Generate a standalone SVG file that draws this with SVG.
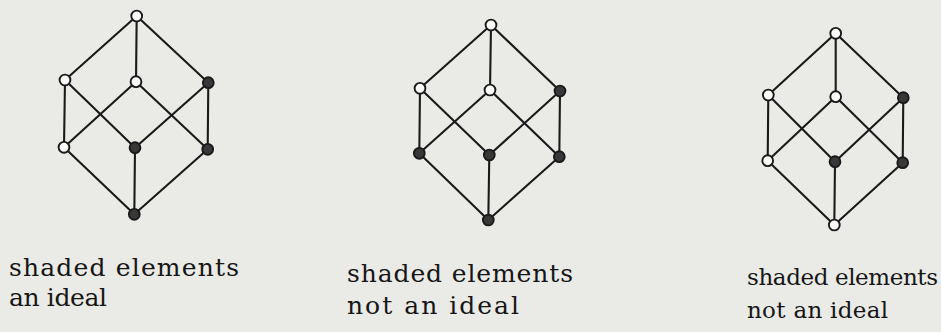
<svg xmlns="http://www.w3.org/2000/svg" width="941" height="332" viewBox="0 0 941 332">
<style>
.e{stroke:#1a1a1a;stroke-width:2.1;fill:none;stroke-linecap:round}
.o{fill:#fafaf8;stroke:#1a1a1a;stroke-width:1.9}
.f{fill:#383838;stroke:#1a1a1a;stroke-width:1.9}
.t{font-family:"DejaVu Serif","Liberation Serif",serif;font-size:25px;fill:#161616}
.s{font-size:23px}
</style>
<rect width="941" height="332" fill="#eaeae6"/>
<g id="connectors">
<path class="e" d="M136.7,16 L65,80 M136.7,16 L136,81.7 M136.7,16 L208.3,82.7 M65,80 L64,147.3 M65,80 L135,147.7 M136,81.7 L64,147.3 M136,81.7 L207.7,149.3 M208.3,82.7 L135,147.7 M208.3,82.7 L207.7,149.3 M64,147.3 L134.3,214.3 M135,147.7 L134.3,214.3 M207.7,149.3 L134.3,214.3"/>
<path class="e" d="M491,25 L420,88.3 M491,25 L490,90 M491,25 L560,91 M420,88.3 L419.3,153.3 M420,88.3 L489.3,155 M490,90 L419.3,153.3 M490,90 L559.3,156.7 M560,91 L489.3,155 M560,91 L559.3,156.7 M419.3,153.3 L488.3,220 M489.3,155 L488.3,220 M559.3,156.7 L488.3,220"/>
<path class="e" d="M835.7,33.3 L768.3,95 M835.7,33.3 L835.7,96.7 M835.7,33.3 L903.3,97.7 M768.3,95 L767.7,160.7 M768.3,95 L835,161.7 M835.7,96.7 L767.7,160.7 M835.7,96.7 L902.7,162.7 M903.3,97.7 L835,161.7 M903.3,97.7 L902.7,162.7 M767.7,160.7 L834.3,225 M835,161.7 L834.3,225 M902.7,162.7 L834.3,225"/>
</g>
<g id="lattice1">
<circle id="l1-top" class="o" cx="136.7" cy="16" r="5.4"/>
<circle id="l1-a" class="o" cx="65" cy="80" r="5.4"/>
<circle id="l1-b" class="o" cx="136" cy="81.7" r="5.4"/>
<circle id="l1-c" class="f" cx="208.3" cy="82.7" r="5.4"/>
<circle id="l1-ab" class="o" cx="64" cy="147.3" r="5.4"/>
<circle id="l1-ac" class="f" cx="135" cy="147.7" r="5.4"/>
<circle id="l1-bc" class="f" cx="207.7" cy="149.3" r="5.4"/>
<circle id="l1-bot" class="f" cx="134.3" cy="214.3" r="5.4"/>
</g>
<g id="lattice2">
<circle id="l2-top" class="o" cx="491" cy="25" r="5.4"/>
<circle id="l2-a" class="o" cx="420" cy="88.3" r="5.4"/>
<circle id="l2-b" class="o" cx="490" cy="90" r="5.4"/>
<circle id="l2-c" class="f" cx="560" cy="91" r="5.4"/>
<circle id="l2-ab" class="f" cx="419.3" cy="153.3" r="5.4"/>
<circle id="l2-ac" class="f" cx="489.3" cy="155" r="5.4"/>
<circle id="l2-bc" class="f" cx="559.3" cy="156.7" r="5.4"/>
<circle id="l2-bot" class="f" cx="488.3" cy="220" r="5.4"/>
</g>
<g id="lattice3">
<circle id="l3-top" class="o" cx="835.7" cy="33.3" r="5.4"/>
<circle id="l3-a" class="o" cx="768.3" cy="95" r="5.4"/>
<circle id="l3-b" class="o" cx="835.7" cy="96.7" r="5.4"/>
<circle id="l3-c" class="f" cx="903.3" cy="97.7" r="5.4"/>
<circle id="l3-ab" class="o" cx="767.7" cy="160.7" r="5.4"/>
<circle id="l3-ac" class="f" cx="835" cy="161.7" r="5.4"/>
<circle id="l3-bc" class="f" cx="902.7" cy="162.7" r="5.4"/>
<circle id="l3-bot" class="o" cx="834.3" cy="225" r="5.4"/>
</g>
<g id="caption1">
<text class="t" x="9" y="276" textLength="230" lengthAdjust="spacing">shaded elements</text>
<text class="t" x="9" y="306" textLength="98" lengthAdjust="spacing">an ideal</text>
</g>
<g id="caption2">
<text class="t" x="347" y="282" textLength="226" lengthAdjust="spacing">shaded elements</text>
<text class="t" x="347" y="314" textLength="172" lengthAdjust="spacing">not an ideal</text>
</g>
<g id="caption3">
<text class="t s" x="747" y="285" textLength="191" lengthAdjust="spacing">shaded elements</text>
<text class="t s" x="747" y="318" textLength="141" lengthAdjust="spacing">not an ideal</text>
</g>
</svg>
